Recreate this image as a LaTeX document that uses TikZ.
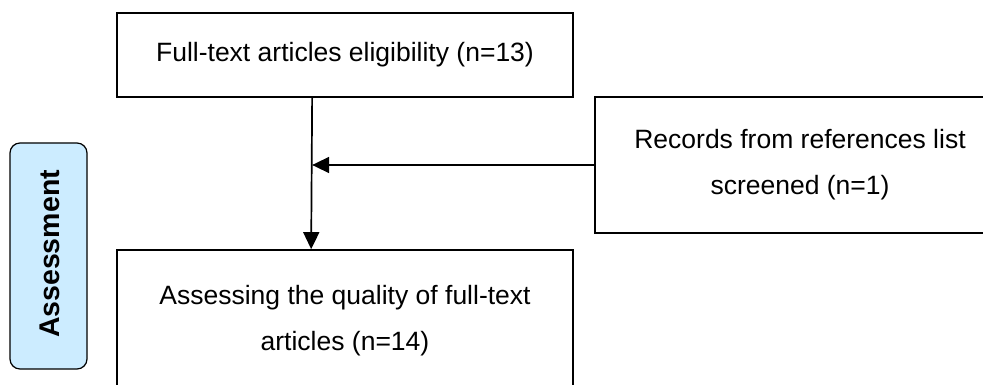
\documentclass[tikz,border=0pt]{standalone}
\usepackage{fontspec}
\setmainfont{Liberation Sans}
\usetikzlibrary{arrows.meta}
\definecolor{phasefill}{RGB}{204,236,255}
\tikzset{
  boxstyle/.style={draw=black, line width=1.7pt, rectangle, align=center, inner sep=0pt,
    font=\fontsize{26.5}{46}\selectfont},
  phasestyle/.style={draw=black, line width=1.2pt, fill=phasefill, rounded corners=10pt,
    inner sep=0pt, minimum width=77pt, minimum height=226pt},
  arrowstyle/.style={draw=black, line width=1.7pt, -{Triangle[length=17pt,width=16pt]}}
}
\begin{document}
\begin{tikzpicture}[x=1pt,y=-1pt]
\useasboundingbox (0,0) rectangle (983,385);
\node[phasestyle] (phase) at (48.5,256) {};
\node[rotate=90, font=\fontsize{28.5}{30}\selectfont\bfseries] (phaselbl) at (50,254) {Assessment};
\node[boxstyle, minimum width=456pt, minimum height=84pt] (top) at (345,55) {Full-text articles eligibility (n=13)};
\node[boxstyle, minimum width=410pt, minimum height=136pt] (rec) at (800,165) {Records from references list\\screened (n=1)};
\node[boxstyle, minimum width=456pt, minimum height=142pt] (bot) at (345,321) {Assessing the quality of full-text\\articles (n=14)};
\coordinate (vx) at ([xshift=196pt]top.south west);
\draw[arrowstyle] (vx) -- ([xshift=195pt]bot.north west);
\draw[arrowstyle] (rec.west) -- (rec.west -| vx);
\end{tikzpicture}
\end{document}
